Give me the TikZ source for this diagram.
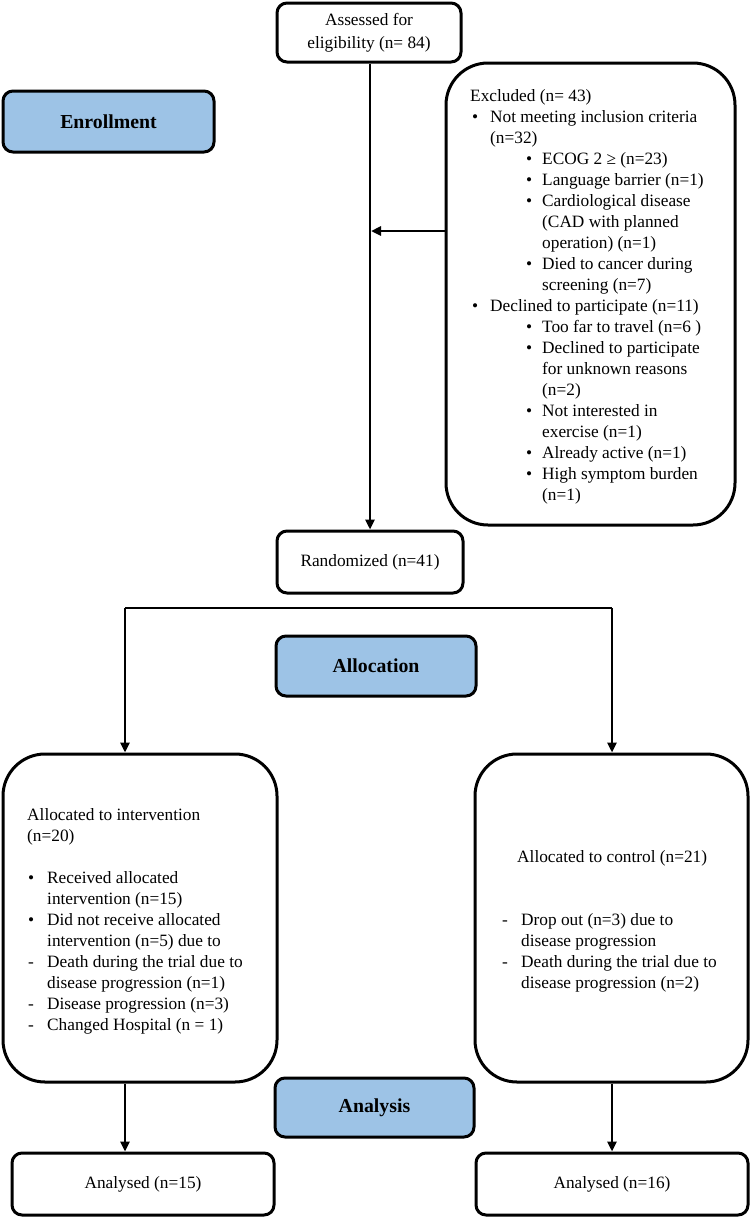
\documentclass[tikz,border=0pt]{standalone}
\usepackage{fontspec}
\setmainfont{Liberation Serif}
\usetikzlibrary{arrows.meta}
\definecolor{stageblue}{RGB}{157,195,230}
\newcommand\mainfs{\fontsize{17.3}{21}\selectfont}
\newcommand\stagefs{\fontsize{19.8}{23}\selectfont\bfseries}
\newcommand\bulA{\hspace*{2pt}\makebox[18pt][l]{•}}
\newcommand\contA{\hspace*{20pt}}
\newcommand\bulB{\hspace*{56pt}\makebox[16pt][l]{•}}
\newcommand\contB{\hspace*{72pt}}
\newcommand\bulL{\hspace*{1pt}\makebox[19pt][l]{•}}
\newcommand\dashL{\hspace*{1pt}\makebox[19pt][l]{-}}
\newcommand\contL{\hspace*{20pt}}
\begin{document}
\begin{tikzpicture}[x=1pt,y=-1pt,
  box/.style={draw, line width=3pt, rounded corners=10pt, inner sep=0pt, font=\mainfs, align=center},
  bigbox/.style={draw, line width=3pt, rounded corners=42pt, inner sep=0pt},
  stage/.style={draw, line width=3pt, rounded corners=10pt, fill=stageblue, inner sep=0pt, font=\stagefs},
  txt/.style={anchor=west, align=left, inner sep=0pt, font=\mainfs},
  arr/.style={line width=2.6pt, -{Triangle[length=10pt,width=9pt]}},
  conn/.style={line width=2.6pt}]
\useasboundingbox (0,0) rectangle (751,1219);

% boxes
\node[box, minimum width=184pt, minimum height=59pt] (assess) at (369,32.5) {Assessed for\\[2pt]eligibility (n= 84)};
\node[stage, minimum width=211pt, minimum height=61pt] (enroll) at (108.5,121.5) {Enrollment};
\node[bigbox, minimum width=289pt, minimum height=462pt] (exclbox) at (590.5,294) {};
\node[box, minimum width=186pt, minimum height=62pt] (rand) at (370,562) {Randomized (n=41)};
\node[stage, minimum width=200pt, minimum height=60pt] (alloc) at (376,666) {Allocation};
\node[bigbox, minimum width=274pt, minimum height=328pt] (intbox) at (140,918) {};
\node[bigbox, minimum width=273pt, minimum height=328pt] (ctrlbox) at (611.5,918) {};
\node[stage, minimum width=199pt, minimum height=59pt] (analysis) at (374.5,1107.5) {Analysis};
\node[box, minimum width=262pt, minimum height=62pt] (an1) at (143,1184) {Analysed (n=15)};
\node[box, minimum width=272pt, minimum height=62pt] (an2) at (612,1184) {Analysed (n=16)};

% texts in big boxes
\node[txt] (excltext) at (470,297) {%
Excluded (n= 43)\\
\bulA Not meeting inclusion criteria\\
\contA (n=32)\\
\bulB ECOG 2 ≥ (n=23)\\
\bulB Language barrier (n=1)\\
\bulB Cardiological disease\\
\contB (CAD with planned\\
\contB operation) (n=1)\\
\bulB Died to cancer during\\
\contB screening (n=7)\\
\bulA Declined to participate (n=11)\\
\bulB Too far to travel (n=6 )\\
\bulB Declined to participate\\
\contB for unknown reasons\\
\contB (n=2)\\
\bulB Not interested in\\
\contB exercise (n=1)\\
\bulB Already active (n=1)\\
\bulB High symptom burden\\
\contB (n=1)};

\node[txt] (inttext) at (27,921) {%
Allocated to intervention\\
(n=20)\\
\mbox{}\\
\bulL Received allocated\\
\contL intervention (n=15)\\
\bulL Did not receive allocated\\
\contL intervention (n=5) due to\\
\dashL Death during the trial due to\\
\contL disease progression (n=1)\\
\dashL Disease progression (n=3)\\
\dashL Changed Hospital (n = 1)};

\node[txt] (ctrltext) at (501,921) {%
\hspace*{16pt}Allocated to control (n=21)\\
\mbox{}\\
\mbox{}\\
\dashL Drop out (n=3) due to\\
\contL disease progression\\
\dashL Death during the trial due to\\
\contL disease progression (n=2)};

% connectors
\coordinate (ej) at (371,231);
\coordinate (splitl) at (125,608);
\coordinate (splitr) at (612,608);
\draw[arr] (assess.south -| rand.north) -- (rand.north);
\draw[arr] (exclbox.west |- ej) -- (ej);
\draw[conn] (splitl) -- (splitr);
\draw[arr] (splitl) -- (intbox.north -| splitl);
\draw[arr] (splitr) -- (ctrlbox.north -| splitr);
\draw[arr] (intbox.south -| splitl) -- (an1.north -| splitl);
\draw[arr] (ctrlbox.south -| splitr) -- (an2.north -| splitr);
\end{tikzpicture}
\end{document}
